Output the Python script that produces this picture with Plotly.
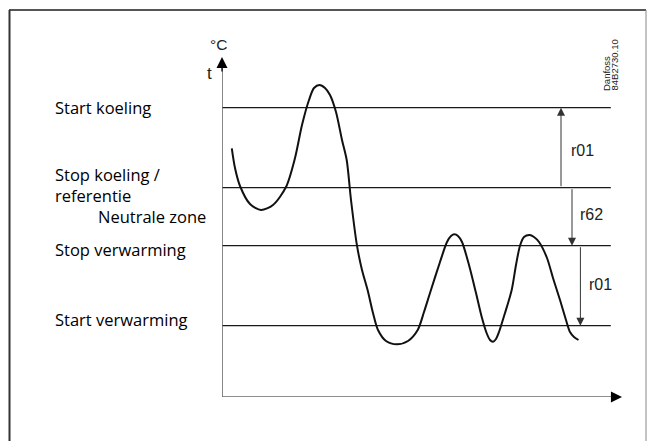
import plotly.graph_objects as go

# Temperature trace over time (time units, temperature units)
time_vals = [2.45, 3.25, 4.5, 7.0, 9.75, 12.75, 16.0, 18.25, 20.0, 21.75, 23.0, 24.375,
             25.75, 27.0, 28.5, 30.0, 31.175, 32.25, 33.75, 35.0, 36.4, 37.75, 39.0, 41.0,
             43.7, 46.5, 48.925, 50.5, 52.0, 54.5, 56.25, 57.25, 58.125, 59.0, 60.0, 61.75,
             63.5, 65.0, 66.15, 67.0, 67.75, 68.5, 69.25, 70.75, 72.425, 73.5, 74.5, 75.5,
             76.925, 78.0, 79.25, 81.25, 82.75, 84.5, 86.0, 87.0, 88.0, 89.125]
temp_vals = [8.87, 7.885, 6.985, 6.085, 5.785, 6.035, 6.935, 8.385, 10.035, 11.285, 11.885, 12.035,
             11.885, 11.535, 10.685, 9.285, 8.285, 6.285, 4.0, 2.785, 1.785, 0.635, -0.215, -0.765,
             -0.93, -0.765, -0.215, 0.685, 1.635, 3.185, 4.185, 4.485, 4.57, 4.485, 4.185, 3.035,
             1.635, 0.385, -0.365, -0.715, -0.8, -0.665, -0.315, 0.635, 1.785, 3.035, 4.0, 4.435,
             4.535, 4.435, 4.185, 3.385, 2.385, 1.285, 0.285, -0.315, -0.565, -0.715]

# Switching levels
level_names = ["Start koeling", "Stop koeling /<br>referentie", "Stop verwarming", "Start verwarming"]
level_vals = [10.9, 6.9, 4.0, 0.0]
line_end = 97.2

# Differential arrows: (x, from, to, label)
diff_x = [84.75, 87.5, 89.6]
diff_from = [6.9, 6.9, 4.0]
diff_to = [10.9, 4.0, 0.0]
diff_labels = ["r01", "r62", "r01"]

X_RANGE = [0, 100]
Y_RANGE = [-3.565, 13.435]

# plot area in pixels: left 222, right 622, top 57, bottom 397
def px(xp):
    return (xp - 222) / 400.0

def py(yp):
    return (397 - yp) / 340.0

fig = go.Figure()

for lv in level_vals:
    fig.add_trace(go.Scatter(x=[0, line_end], y=[lv, lv], mode="lines",
                             line=dict(color="#1a1a1a", width=1.2),
                             hoverinfo="skip", showlegend=False))

fig.add_trace(go.Scatter(x=time_vals, y=temp_vals, mode="lines",
                         line=dict(color="#111111", width=2, shape="spline", smoothing=0.8),
                         hoverinfo="skip", showlegend=False))

shapes = []
annotations = []

# axes
shapes.append(dict(type="line", xref="x", yref="y", x0=0, x1=0, y0=Y_RANGE[0], y1=Y_RANGE[1] - 0.3,
                   line=dict(color="#6a6a6a", width=1.6)))
shapes.append(dict(type="line", xref="x", yref="y", x0=0, x1=X_RANGE[1] - 1.5, y0=Y_RANGE[0], y1=Y_RANGE[0],
                   line=dict(color="#6a6a6a", width=1.6)))
annotations.append(dict(x=0, y=Y_RANGE[1], ax=0, ay=Y_RANGE[1] - 0.8, xref="x", yref="y",
                        axref="x", ayref="y", text="", showarrow=True, arrowhead=2,
                        arrowsize=1.7, arrowwidth=1.3, arrowcolor="#000000", standoff=0))
annotations.append(dict(x=X_RANGE[1], y=Y_RANGE[0], ax=X_RANGE[1] - 3, ay=Y_RANGE[0], xref="x", yref="y",
                        axref="x", ayref="y", text="", showarrow=True, arrowhead=2,
                        arrowsize=1.7, arrowwidth=1.3, arrowcolor="#000000", standoff=0))

# frame
frame_col = "#555555"
shapes.append(dict(type="line", xref="paper", yref="paper", x0=px(9), x1=px(646), y0=py(10), y1=py(10),
                   line=dict(color=frame_col, width=2)))
shapes.append(dict(type="line", xref="paper", yref="paper", x0=px(9.5), x1=px(9.5), y0=py(10), y1=py(445),
                   line=dict(color="#333333", width=2)))
shapes.append(dict(type="line", xref="paper", yref="paper", x0=px(646), x1=px(646), y0=py(10), y1=py(445),
                   line=dict(color="#888888", width=1)))

# differential arrows and labels
label_pos = [(582, 150), (591.5, 214.5), (600.5, 284)]
for xv, y0, y1, lab, (lx, ly) in zip(diff_x, diff_from, diff_to, diff_labels, label_pos):
    annotations.append(dict(x=xv, y=y1, ax=xv, ay=y0, xref="x", yref="y", axref="x", ayref="y",
                            text="", showarrow=True, arrowhead=2, arrowsize=1.6, arrowwidth=1,
                            arrowcolor="#333333", standoff=0))
    annotations.append(dict(x=px(lx), y=py(ly), xref="paper", yref="paper", text=lab, showarrow=False,
                            xanchor="center", yanchor="middle",
                            font=dict(family="Liberation Sans, Arial", size=16, color="#222222")))

# level captions
left_font = dict(family="Open Sans", size=16.5, color="#000000")
caption_pos = [(53, 107), (53, 184.5), (53, 249), (53, 319.5)]
for txt, (lx, ly) in zip(level_names, caption_pos):
    annotations.append(dict(x=px(lx), y=py(ly), xref="paper", yref="paper", text=txt, showarrow=False,
                            xanchor="left", yanchor="middle", align="left", font=left_font))
annotations.append(dict(x=px(95.5), y=py(216), xref="paper", yref="paper", text="Neutrale zone",
                        showarrow=False, xanchor="left", yanchor="middle", font=left_font))

# axis captions
annotations.append(dict(x=px(218), y=py(45), xref="paper", yref="paper", text="°C", showarrow=False,
                        xanchor="center", yanchor="middle",
                        font=dict(family="Liberation Sans, Arial", size=15.5, color="#222222")))
annotations.append(dict(x=px(209), y=py(73), xref="paper", yref="paper", text="t", showarrow=False,
                        xanchor="center", yanchor="middle",
                        font=dict(family="Liberation Sans, Arial", size=17, color="#222222")))

# drawing reference
for txt, cx in (("Danfoss", 606.5), ("84B2730.10", 614)):
    annotations.append(dict(x=px(cx), y=py(93), xref="paper", yref="paper", text=txt, showarrow=False,
                            textangle=-90, xanchor="center", yanchor="bottom",
                            font=dict(family="Liberation Sans, Arial", size=9.5, color="#222222")))

fig.update_layout(
    width=655, height=441,
    margin=dict(l=222, r=33, t=57, b=44, pad=0),
    paper_bgcolor="white", plot_bgcolor="white",
    xaxis=dict(range=X_RANGE, visible=False, fixedrange=True),
    yaxis=dict(range=Y_RANGE, visible=False, fixedrange=True),
    shapes=shapes, annotations=annotations, showlegend=False,
)

fig.write_html("out.html")
